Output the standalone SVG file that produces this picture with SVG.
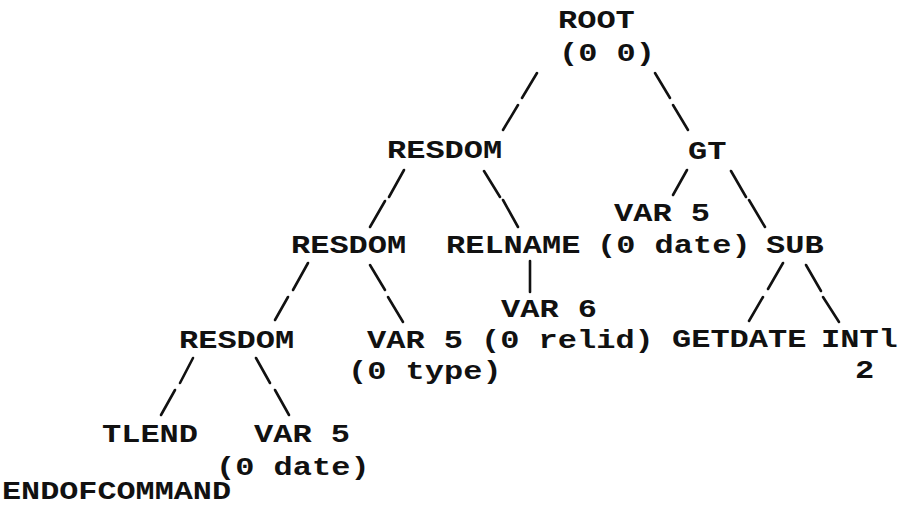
<svg xmlns="http://www.w3.org/2000/svg" width="900" height="508" viewBox="0 0 900 508">
  <style>
    .t { font-family: "Liberation Mono", "DejaVu Sans Mono", monospace; font-size: 26px; font-weight: bold; fill: #111; }
    .edge { stroke: #111; stroke-width: 2.6; stroke-linecap: round; fill: none; }
  </style>
  <rect width="900" height="508" fill="#fff"/>

  <!-- connectors: typed slashes, each branch made of stacked strokes -->
  <g id="connectors" class="edge">
    <!-- ROOT -->
    <path d="M537,73 L522,98 M518,105 L503,130"/>
    <path d="M655,73 L670,98 M673,105 L688,130"/>
    <!-- RESDOM (top) -->
    <path d="M404,170 L389,197 M385,201 L370,227"/>
    <path d="M484,171 L500,197 M503,200 L518,227"/>
    <!-- GT -->
    <path d="M687,170 L673,195"/>
    <path d="M731,171 L746,197 M749,200 L765,227"/>
    <!-- RESDOM (middle) -->
    <path d="M308,263 L293,290 M288,297 L275,320"/>
    <path d="M370,265 L385,290 M388,297 L403,322"/>
    <!-- RELNAME -->
    <path d="M530,261 L530,292"/>
    <!-- SUB -->
    <path d="M783,263 L768,289 M763,297 L749,321"/>
    <path d="M806,265 L821,291 M823,297 L839,322"/>
    <!-- RESDOM (bottom) -->
    <path d="M193,358 L180,383 M175,390 L161,415"/>
    <path d="M256,358 L270,383 M275,390 L289,415"/>
  </g>

  <g id="root">
    <text class="t" x="558" y="28" textLength="76.8" lengthAdjust="spacingAndGlyphs">ROOT</text>
    <text class="t" x="559" y="61" textLength="96" lengthAdjust="spacingAndGlyphs">(0 0)</text>
  </g>
  <g id="resdom1">
    <text class="t" x="387" y="158" textLength="115.2" lengthAdjust="spacingAndGlyphs">RESDOM</text>
  </g>
  <g id="gt">
    <text class="t" x="688" y="159" textLength="38.4" lengthAdjust="spacingAndGlyphs">GT</text>
  </g>
  <g id="var5-gt">
    <text class="t" x="614" y="221" textLength="96" lengthAdjust="spacingAndGlyphs">VAR 5</text>
    <text class="t" x="597" y="253" textLength="153.6" lengthAdjust="spacingAndGlyphs">(0 date)</text>
  </g>
  <g id="sub">
    <text class="t" x="766" y="253" textLength="57.6" lengthAdjust="spacingAndGlyphs">SUB</text>
  </g>
  <g id="resdom2">
    <text class="t" x="291" y="253" textLength="115.2" lengthAdjust="spacingAndGlyphs">RESDOM</text>
  </g>
  <g id="relname">
    <text class="t" x="446" y="253" textLength="134.4" lengthAdjust="spacingAndGlyphs">RELNAME</text>
  </g>
  <g id="var6">
    <text class="t" x="501" y="317" textLength="96" lengthAdjust="spacingAndGlyphs">VAR 6</text>
    <text class="t" x="481" y="348" textLength="172.8" lengthAdjust="spacingAndGlyphs">(0 relid)</text>
  </g>
  <g id="resdom3">
    <text class="t" x="179" y="348" textLength="115.2" lengthAdjust="spacingAndGlyphs">RESDOM</text>
  </g>
  <g id="var5-type">
    <text class="t" x="367" y="348" textLength="96" lengthAdjust="spacingAndGlyphs">VAR 5</text>
    <text class="t" x="348" y="379" textLength="153.6" lengthAdjust="spacingAndGlyphs">(0 type)</text>
  </g>
  <g id="getdate">
    <text class="t" x="672" y="347" textLength="134.4" lengthAdjust="spacingAndGlyphs">GETDATE</text>
  </g>
  <g id="int1">
    <text class="t" x="821" y="347" textLength="76.8" lengthAdjust="spacingAndGlyphs">INTl</text>
    <text class="t" x="855" y="378" textLength="19.2" lengthAdjust="spacingAndGlyphs">2</text>
  </g>
  <g id="tlend">
    <text class="t" x="102" y="442" textLength="96" lengthAdjust="spacingAndGlyphs">TLEND</text>
  </g>
  <g id="var5-date">
    <text class="t" x="254" y="442" textLength="96" lengthAdjust="spacingAndGlyphs">VAR 5</text>
    <text class="t" x="216" y="475" textLength="153.6" lengthAdjust="spacingAndGlyphs">(0 date)</text>
  </g>
  <g id="endofcommand">
    <text class="t" x="2" y="499" textLength="229" lengthAdjust="spacingAndGlyphs">ENDOFCOMMAND</text>
  </g>
</svg>
